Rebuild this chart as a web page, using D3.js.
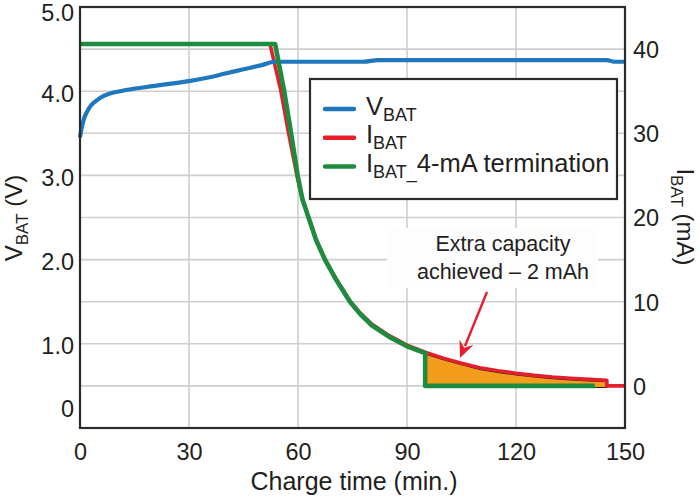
<!DOCTYPE html>
<html><head><meta charset="utf-8">
<script src="https://cdn.jsdelivr.net/npm/d3@7"></script>
<style>
body{margin:0;background:#fff;}
text{font-family:"Liberation Sans",Arial,sans-serif;fill:#231f20;}
</style></head>
<body><svg id="c" width="700" height="497"></svg>
<script>
// ---- data ----
const xTicks = [0, 30, 60, 90, 120, 150];
const vTicks = [0, 1, 2, 3, 4, 5];
const iTicks = [0, 10, 20, 30, 40];
const gridV = [0.5, 1, 1.5, 2, 2.5, 3, 3.5, 4, 4.5];

const vbatT = [0, 0.4, 1, 2, 3, 4, 5.5, 8, 11, 15, 20, 25, 30, 35, 40, 45, 50, 53.5, 78, 82, 145, 147, 150];
const vbatV = [3.45, 3.55, 3.66, 3.76, 3.83, 3.87, 3.92, 3.97, 4.0, 4.03, 4.06, 4.09, 4.12, 4.16, 4.21, 4.26, 4.31, 4.35, 4.35, 4.37, 4.37, 4.35, 4.35];

const ibatT = [0, 52.3, 55.3, 57.4, 59.7, 61.2, 62.9, 65, 67.4, 70.5, 74.3, 77, 80.3, 85, 90, 95, 100, 105, 110, 115, 120, 125, 130, 135, 140, 145, 145, 150];
const ibatI = [40.6, 40.6, 35, 30, 25, 22.2, 20, 17.4, 15.1, 12.7, 10.1, 8.7, 7.35, 6.0, 4.85, 4.0, 3.3, 2.7, 2.15, 1.8, 1.5, 1.25, 1.05, 0.9, 0.78, 0.68, 0, 0];

const termT = [0, 53.7, 56.2, 58.1, 59.9, 61.2, 62.9, 65, 67.4, 70.5, 74.3, 77, 80.3, 85, 90, 95, 95, 141.7];
const termI = [40.6, 40.6, 35, 30, 25, 22.2, 20, 17.3, 15, 12.6, 10, 8.6, 7.2, 5.85, 4.7, 3.9, 0, 0];

const extraT = [95, 100, 105, 110, 115, 120, 125, 130, 135, 140, 145];
const extraI = [4.0, 3.3, 2.7, 2.15, 1.8, 1.5, 1.25, 1.05, 0.9, 0.78, 0.68];

const legendLabels = [["V", "BAT", ""], ["I", "BAT", ""], ["I", "BAT_", "4-mA termination"]];
const annotationLines = ["Extra capacity", "achieved \u2013 2 mAh"];

// ---- colours ----
const cBlue = "#1f77be", cRed = "#e41f2b", cGreen = "#1e8c3f", cOrange = "#f49c1c", cAxis = "#2b2b2b";

const svg = d3.select("#c");
const L = 80, R = 625, T = 7, B = 428;
const x = d3.scaleLinear().domain([0, 150]).range([L, R]);
const yV = d3.scaleLinear().domain([0, 5]).range([B, T]);
const yI = d3.scaleLinear().domain([-5, 45]).range([B, T]);

// grid
const g = svg.append("g");
g.selectAll(".hg").data(gridV).join("line")
  .attr("x1", L).attr("x2", R).attr("y1", d => yV(d)).attr("y2", d => yV(d))
  .attr("stroke", "#cfcfcf").attr("stroke-width", 1.6);
g.selectAll(".vg").data(xTicks.slice(1, -1)).join("line")
  .attr("x1", d => x(d)).attr("x2", d => x(d)).attr("y1", T).attr("y2", B)
  .attr("stroke", "#cfcfcf").attr("stroke-width", 1.6);

// annotation background box
svg.append("rect").attr("x", 387).attr("y", 228).attr("width", 211).attr("height", 60).attr("fill", "#fdfdfd");

// extra capacity area
const extra = extraT.map((t, i) => ({t, v: extraI[i]}));
svg.append("path").datum(extra)
  .attr("d", d3.area().x(d => x(d.t)).y0(yI(0)).y1(d => yI(d.v)))
  .attr("fill", cOrange).attr("stroke", "#222").attr("stroke-width", 1.2)
  .attr("transform", "translate(0,1.6)");

const line = (ts, vs, ys) => d3.line().x(d => x(d[0])).y(d => ys(d[1]))(ts.map((t, i) => [t, vs[i]]));

svg.append("path").attr("d", line(ibatT, ibatI, yI)).attr("fill", "none")
  .attr("stroke", cRed).attr("stroke-width", 3.6).attr("stroke-linejoin", "round");
svg.append("path").attr("d", d3.line().curve(d3.curveMonotoneX).x(d => x(d[0])).y(d => yV(d[1]))(vbatT.map((t, i) => [t, vbatV[i]])))
  .attr("fill", "none").attr("stroke", cBlue).attr("stroke-width", 4.2);
svg.append("path").attr("d", line(termT, termI, yI)).attr("fill", "none")
  .attr("stroke", cGreen).attr("stroke-width", 4.6).attr("stroke-linejoin", "round");

// frame
svg.append("rect").attr("x", L).attr("y", T).attr("width", R - L).attr("height", B - T)
  .attr("fill", "none").attr("stroke", cAxis).attr("stroke-width", 2.2);

// axes
const fs = "23.5px";
const ax = svg.append("g").attr("transform", `translate(0,${B})`)
  .call(d3.axisBottom(x).tickValues(xTicks).tickSize(0).tickPadding(15));
const ay = svg.append("g").attr("transform", `translate(${L},0)`)
  .call(d3.axisLeft(yV).tickValues(vTicks).tickSize(0).tickPadding(6).tickFormat(d => d === 0 ? "0" : d3.format(".1f")(d)));
const ar = svg.append("g").attr("transform", `translate(${R},0)`)
  .call(d3.axisRight(yI).tickValues(iTicks).tickSize(0).tickPadding(8));
[ax, ay, ar].forEach(a => {
  a.select(".domain").remove();
  a.selectAll("text").style("font-size", fs).attr("fill", "#231f20");
});
ay.selectAll("text").attr("dy", d => d === 0 ? "-0.5em" : (d === 5 ? "0.56em" : "0.42em"));
ar.selectAll("text").attr("dy", "0.36em");

// axis titles
const ts = "24px";
svg.append("text").attr("x", 354).attr("y", 490).attr("text-anchor", "middle").style("font-size", "25px")
  .text("Charge time (min.)");
const lt = svg.append("text").attr("transform", "translate(22,218) rotate(-90)").attr("text-anchor", "middle").style("font-size", ts);
lt.append("tspan").text("V");
lt.append("tspan").attr("dy", 6).style("font-size", "17px").text("BAT");
lt.append("tspan").attr("dy", -6).text(" (V)");
const rt = svg.append("text").attr("transform", "translate(677,217) rotate(90)").attr("text-anchor", "middle").style("font-size", ts);
rt.append("tspan").text("I");
rt.append("tspan").attr("dy", 6).style("font-size", "17px").text("BAT");
rt.append("tspan").attr("dy", -6).text(" (mA)");

// legend
const lg = svg.append("g");
lg.append("rect").attr("x", 310).attr("y", 79).attr("width", 307).attr("height", 120)
  .attr("fill", "#fff").attr("stroke", cAxis).attr("stroke-width", 2.2);
const lcol = [cBlue, cRed, cGreen];
legendLabels.forEach((lab, i) => {
  const yy = 109 + i * 28.8;
  lg.append("line").attr("x1", 325).attr("x2", 354).attr("y1", yy).attr("y2", yy)
    .attr("stroke", lcol[i]).attr("stroke-width", 4.5).attr("stroke-linecap", "round");
  const t = lg.append("text").attr("x", 366).attr("y", yy + 5.5).style("font-size", "25.5px");
  t.append("tspan").text(lab[0]);
  t.append("tspan").attr("dy", 6).style("font-size", "18px").text(lab[1]);
  if (lab[2]) t.append("tspan").attr("dy", -6).text(lab[2]);
});

// annotation
annotationLines.forEach((s, i) => {
  svg.append("text").attr("x", 503).attr("y", 251 + i * 28).attr("text-anchor", "middle")
    .style("font-size", "21.5px").text(s);
});
const tip = [460, 358], tail = [487, 292];
svg.append("line").attr("x1", tail[0]).attr("y1", tail[1]).attr("x2", 465).attr("y2", 346)
  .attr("stroke", cRed).attr("stroke-width", 2.4);
{
  const ang = Math.atan2(tip[1] - tail[1], tip[0] - tail[0]);
  const len = 17, hw = 7.5, notch = 11;
  const ca = Math.cos(ang), sa = Math.sin(ang);
  const p = (a, b) => [tip[0] - a * ca + b * -sa, tip[1] - a * sa + b * ca];
  const pts = [tip, p(len, hw), p(notch, 0), p(len, -hw)];
  svg.append("path").attr("d", "M" + pts.map(q => q.join(",")).join("L") + "Z").attr("fill", cRed);
}
</script></body></html>
